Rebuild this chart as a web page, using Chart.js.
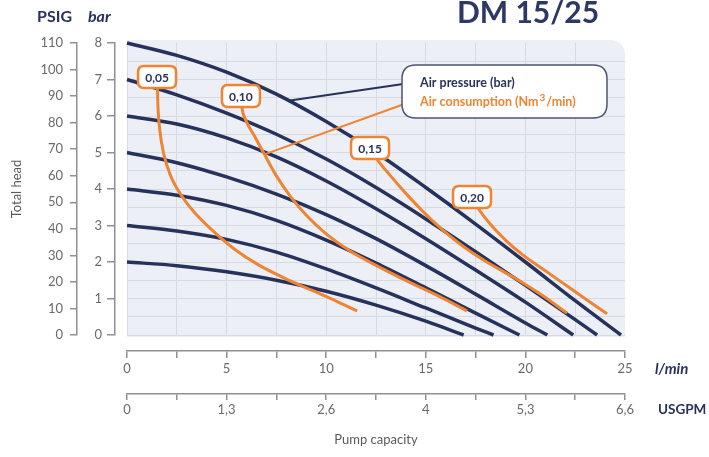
<!DOCTYPE html>
<html>
<head>
<meta charset="utf-8">
<script src="https://cdn.jsdelivr.net/npm/chart.js@4.4.0/dist/chart.umd.min.js"></script>
<style>
  html, body { margin: 0; padding: 0; background: #fff; }
</style>
</head>
<body>
<canvas id="pumpCurves" width="709" height="457"></canvas>
<script>
// === Pump curves DM 15/25 ===
// flow (l/min) where the air pressure curves are sampled
const flowGrid = [0, 2.5, 5, 7.5, 10, 12.5, 15, 17.5, 20, 22.5];
const pressureLevels = [2, 3, 4, 5, 6, 7, 8];

// total head (bar) at each flowGrid point, one array per air pressure
const head2bar = [2.0, 1.9, 1.73, 1.5, 1.2, 0.82, 0.38];
const head3bar = [3.0, 2.85, 2.62, 2.27, 1.81, 1.29, 0.74, 0.19];
const head4bar = [4.0, 3.83, 3.55, 3.14, 2.6, 1.97, 1.29, 0.6];
const head5bar = [5.0, 4.72, 4.33, 3.86, 3.3, 2.64, 1.9, 1.12, 0.33];
const head6bar = [6.0, 5.78, 5.4, 4.88, 4.22, 3.46, 2.64, 1.78, 0.9];
const head7bar = [7.0, 6.58, 6.08, 5.5, 4.82, 4.04, 3.18, 2.28, 1.36, 0.42];
const head8bar = [8.0, 7.66, 7.2, 6.6, 5.85, 5.0, 4.04, 3.04, 2.0, 0.94];
// flow where each pressure curve reaches 0 bar
const zeroHeadFlow = [16.9, 18.4, 19.7, 21.1, 22.4, 23.6, 24.8];

// air consumption curves (Nm3/min), first point is where the label sits
const consumptionLabels = ['0,05', '0,10', '0,15', '0,20'];
const air005Flow = [1.51, 1.55, 1.65, 1.85, 2.2, 2.7, 3.4, 4.3, 5.4, 6.6, 7.9, 9.3, 10.5, 11.55];
const air005Head = [7.07, 6.3, 5.6, 4.95, 4.35, 3.85, 3.35, 2.86, 2.35, 1.92, 1.56, 1.22, 0.93, 0.66];
const air010Flow = [5.72, 5.78, 5.95, 6.4, 6.9, 7.5, 8.2, 9.0, 10.0, 11.2, 12.6, 14.2, 15.7, 17.07];
const air010Head = [6.55, 6.2, 5.9, 5.45, 4.95, 4.36, 3.8, 3.28, 2.77, 2.3, 1.88, 1.44, 1.05, 0.66];
const air015Flow = [12.2, 12.6, 13.2, 14.0, 14.9, 15.8, 16.8, 18.0, 19.4, 20.8, 22.09];
const air015Head = [5.12, 4.78, 4.38, 3.88, 3.36, 2.9, 2.46, 2.02, 1.58, 1.1, 0.6];
const air020Flow = [17.32, 17.6, 18.2, 19.0, 19.9, 21.0, 22.2, 23.2, 24.1];
const air020Head = [3.78, 3.5, 3.06, 2.6, 2.18, 1.76, 1.3, 0.92, 0.58];

// axis labels
const lminLabels = [0, 5, 10, 15, 20, 25];
const usgpmLabels = ['0', '1,3', '2,6', '4', '5,3', '6,6'];

const NAVY = '#27325c';
const ORANGE = '#ef8433';
const AXIS = '#8d9096';
const TICK_TEXT = '#6a6a6a';
const PLOT_BG = '#eceff5';
const GRID = '#d6dae3';
const FONT = "Lato, 'Open Sans', sans-serif";

Chart.defaults.font.family = FONT;

const headCurves = [head2bar, head3bar, head4bar, head5bar, head6bar, head7bar, head8bar];
const pressureDatasets = headCurves.map((heads, i) => ({
    label: pressureLevels[i] + ' bar',
    data: heads.map((h, j) => ({ x: flowGrid[j], y: h })).concat([{ x: zeroHeadFlow[i], y: 0 }]),
    borderColor: NAVY,
    borderWidth: 3.5,
    pointRadius: 0,
    cubicInterpolationMode: 'monotone',
    clip: false,
    order: 2
}));

const airFlows = [air005Flow, air010Flow, air015Flow, air020Flow];
const airHeads = [air005Head, air010Head, air015Head, air020Head];
const airDatasets = airFlows.map((flows, i) => ({
    label: consumptionLabels[i],
    data: flows.map((f, j) => ({ x: f, y: airHeads[i][j] })),
    borderColor: ORANGE,
    borderWidth: 3,
    pointRadius: 0,
    cubicInterpolationMode: 'monotone',
    clip: false,
    order: 1
}));

// linear lookup on a pressure curve, used to hook the legend pointer onto it
function headAt(heads, flow) {
    for (let j = 0; j < heads.length - 1; j++) {
        if (flow >= flowGrid[j] && flow <= flowGrid[j + 1]) {
            const t = (flow - flowGrid[j]) / (flowGrid[j + 1] - flowGrid[j]);
            return heads[j] + t * (heads[j + 1] - heads[j]);
        }
    }
    return heads[heads.length - 1];
}

function roundedRect(ctx, x, y, w, h, r) {
    const rr = Array.isArray(r) ? r : [r, r, r, r]; // tl, tr, br, bl
    ctx.beginPath();
    ctx.moveTo(x + rr[0], y);
    ctx.lineTo(x + w - rr[1], y);
    ctx.quadraticCurveTo(x + w, y, x + w, y + rr[1]);
    ctx.lineTo(x + w, y + h - rr[2]);
    ctx.quadraticCurveTo(x + w, y + h, x + w - rr[2], y + h);
    ctx.lineTo(x + rr[3], y + h);
    ctx.quadraticCurveTo(x, y + h, x, y + h - rr[3]);
    ctx.lineTo(x, y + rr[0]);
    ctx.quadraticCurveTo(x, y, x + rr[0], y);
    ctx.closePath();
}

const decorations = {
    id: 'decorations',
    beforeDraw(chart) {
        const { ctx, chartArea: a } = chart;
        ctx.save();
        ctx.fillStyle = PLOT_BG;
        roundedRect(ctx, a.left, a.top - 3, a.right - a.left, a.bottom - a.top + 5, [0, 16, 0, 0]);
        ctx.fill();
        ctx.restore();
    },
    afterDatasetsDraw(chart) {
        const { ctx, chartArea: a } = chart;
        const xs = chart.scales.x, ys = chart.scales.y;
        ctx.save();

        // legend box with its two pointers
        const bx = a.left + 275, by = a.top + 22, bw = 205, bh = 53;
        const navyFlow = 8.1;
        const navyTarget = { x: xs.getPixelForValue(navyFlow), y: ys.getPixelForValue(headAt(head8bar, navyFlow)) };
        const orangePt = airDatasets[1].data[4];
        const orangeTarget = { x: xs.getPixelForValue(orangePt.x), y: ys.getPixelForValue(orangePt.y) };
        ctx.lineWidth = 2;
        ctx.strokeStyle = NAVY;
        ctx.beginPath();
        ctx.moveTo(bx + 8, by + 18);
        ctx.lineTo(navyTarget.x, navyTarget.y);
        ctx.stroke();
        ctx.strokeStyle = ORANGE;
        ctx.beginPath();
        ctx.moveTo(bx + 8, by + 37);
        ctx.lineTo(orangeTarget.x, orangeTarget.y);
        ctx.stroke();

        ctx.fillStyle = '#ffffff';
        ctx.strokeStyle = '#4b5470';
        ctx.lineWidth = 1.5;
        roundedRect(ctx, bx, by, bw, bh, 14);
        ctx.fill();
        ctx.stroke();

        ctx.textBaseline = 'middle';
        ctx.textAlign = 'left';
        ctx.font = 'bold 12.5px ' + FONT;
        ctx.fillStyle = NAVY;
        ctx.fillText('Air pressure (bar)', bx + 18, by + 18);
        ctx.fillStyle = ORANGE;
        let tx = bx + 18;
        const part1 = 'Air consumption (Nm';
        ctx.fillText(part1, tx, by + 37);
        tx += ctx.measureText(part1).width + 1;
        ctx.font = 'bold 10px ' + FONT;
        ctx.fillText('3', tx, by + 33);
        tx += ctx.measureText('3').width + 1;
        ctx.font = 'bold 12.5px ' + FONT;
        ctx.fillText('/min)', tx, by + 37);

        // consumption labels at the start of each orange curve
        ctx.textAlign = 'center';
        airDatasets.forEach((ds, i) => {
            const p = ds.data[0];
            const px = xs.getPixelForValue(p.x), py = ys.getPixelForValue(p.y);
            ctx.fillStyle = '#ffffff';
            ctx.strokeStyle = ORANGE;
            ctx.lineWidth = 2.5;
            roundedRect(ctx, px - 19, py - 11, 38, 22, 6);
            ctx.fill();
            ctx.stroke();
            ctx.fillStyle = NAVY;
            ctx.font = 'bold 12px ' + FONT;
            ctx.fillText(consumptionLabels[i], px, py + 1);
        });
        ctx.restore();
    },
    afterDraw(chart) {
        const { ctx } = chart;
        const xs = chart.scales.x, us = chart.scales.usgpm;
        ctx.save();
        ctx.fillStyle = '#2d3866';
        ctx.textAlign = 'left';
        ctx.textBaseline = 'alphabetic';
        ctx.font = 'bold 30px ' + FONT;
        ctx.fillText('DM 15/25', 457, 23);

        ctx.fillStyle = NAVY;
        ctx.font = 'bold 16px ' + FONT;
        ctx.fillText('PSIG', 37, 22);
        ctx.font = 'italic bold 16px ' + FONT;
        ctx.fillText('bar', 88, 22);

        ctx.textBaseline = 'middle';
        ctx.font = 'italic bold 15px ' + FONT;
        ctx.fillText('l/min', xs.right + 30, xs.top + 18);
        ctx.font = 'bold 13.5px ' + FONT;
        ctx.fillText('USGPM', us.right + 33, us.top + 16);
        ctx.restore();
    }
};

new Chart(document.getElementById('pumpCurves').getContext('2d'), {
    type: 'line',
    data: { datasets: airDatasets.concat(pressureDatasets) },
    options: {
        responsive: false,
        animation: false,
        layout: { padding: { top: 43, right: 84, left: 0, bottom: 0 } },
        plugins: { legend: { display: false }, tooltip: { enabled: false } },
        scales: {
            xGrid: {
                type: 'linear', position: 'bottom', weight: 0, min: 0, max: 25,
                ticks: { display: false, stepSize: 2.5 },
                grid: { drawTicks: false, lineWidth: 1, color: c => (c.tick && c.tick.value === 25) ? 'rgba(0,0,0,0)' : GRID },
                border: { display: false },
                afterFit: s => { s.height = 16; }
            },
            x: {
                type: 'linear', position: 'bottom', weight: 1, min: 0, max: 25,
                ticks: {
                    stepSize: 2.5, autoSkip: false, maxRotation: 0, padding: 3,
                    color: TICK_TEXT, font: { size: 13 },
                    callback: v => lminLabels.includes(v) ? String(v) : ''
                },
                grid: { drawOnChartArea: false, tickLength: 7, tickColor: AXIS, lineWidth: 1.5 },
                border: { display: true, color: AXIS, width: 1.5 },
                afterFit: s => { s.height = 43; }
            },
            usgpm: {
                type: 'linear', position: 'bottom', weight: 2, min: 0, max: 25,
                ticks: {
                    stepSize: 2.5, autoSkip: false, maxRotation: 0, padding: 2,
                    color: TICK_TEXT, font: { size: 13 },
                    callback: v => { const k = lminLabels.indexOf(v); return k >= 0 ? usgpmLabels[k] : ''; }
                },
                grid: { drawOnChartArea: false, tickLength: 6, tickColor: AXIS, lineWidth: 1.5 },
                border: { display: true, color: AXIS, width: 1.5 },
                title: { display: true, text: 'Pump capacity', color: '#5a5a5a', font: { size: 13 }, padding: { top: 0, bottom: 9 } },
                afterFit: s => { s.height = 63; }
            },
            yGrid: {
                type: 'linear', position: 'left', weight: 0, min: 0, max: 8,
                ticks: { display: false, stepSize: 0.5 },
                grid: { drawTicks: false, lineWidth: 1, color: c => (c.tick && c.tick.value === 8) ? 'rgba(0,0,0,0)' : GRID },
                border: { display: false },
                afterFit: s => { s.width = 12; }
            },
            y: {
                type: 'linear', position: 'left', weight: 1, min: 0, max: 8,
                ticks: { stepSize: 1, padding: 5, color: TICK_TEXT, font: { size: 13 } },
                grid: { drawOnChartArea: false, tickLength: 8, tickColor: AXIS, lineWidth: 1.5 },
                border: { display: true, color: AXIS, width: 1.5 },
                afterFit: s => { s.width = 38; }
            },
            psig: {
                type: 'linear', position: 'left', weight: 2, min: 0, max: 110,
                ticks: { stepSize: 10, padding: 7, color: TICK_TEXT, font: { size: 13 } },
                grid: { drawOnChartArea: false, tickLength: 7, tickColor: AXIS, lineWidth: 1.5 },
                border: { display: true, color: AXIS, width: 1.5 },
                title: { display: true, text: 'Total head', color: '#5a5a5a', font: { size: 13 }, padding: { top: 9, bottom: 0 } },
                afterFit: s => { s.width = 77; }
            }
        }
    },
    plugins: [decorations]
});
</script>
</body>
</html>
